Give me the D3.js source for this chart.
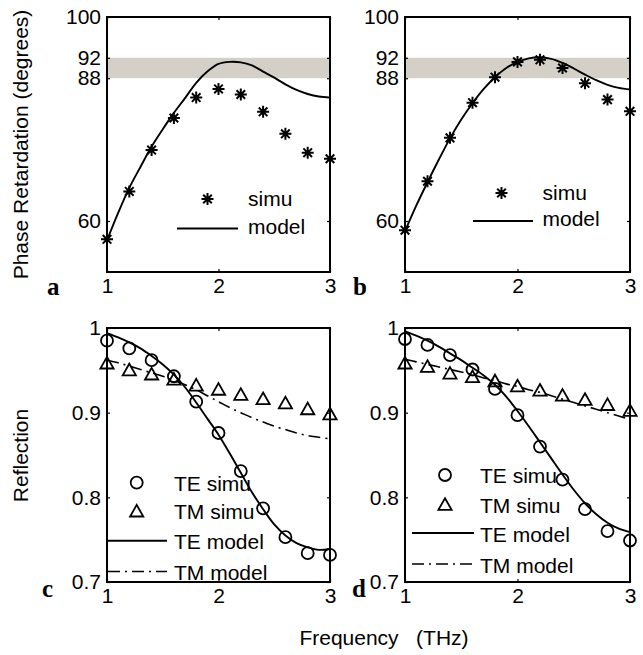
<!DOCTYPE html>
<html>
<head>
<meta charset="utf-8">
<script src="https://cdn.jsdelivr.net/npm/d3@7"></script>
<style>
  html, body { margin: 0; padding: 0; background: #fff; }
  svg { display: block; }
  text { font-family: "Liberation Sans", Arial, Helvetica, sans-serif; fill: #000; }
</style>
</head>
<body>
<svg id="chart" width="643" height="655"></svg>
<script>
// ---------------- DATA ----------------
const freqSimu = [1.0, 1.2, 1.4, 1.6, 1.8, 2.0, 2.2, 2.4, 2.6, 2.8, 3.0];
const freqModel = [1.0, 1.1, 1.2, 1.3, 1.4, 1.5, 1.6, 1.7, 1.8, 1.9, 2.0,
                   2.1, 2.2, 2.3, 2.4, 2.5, 2.6, 2.7, 2.8, 2.9, 3.0];

// Panel a: phase retardation
const phaseSimuA  = [56.4, 65.8, 73.9, 80.2, 84.2, 85.9, 84.8, 81.4, 77.1, 73.4, 72.2];
const phaseModelA = [56.2, 61.6, 66.5, 70.6, 74.6, 78.0, 81.2, 84.1, 87.1, 89.3, 90.8,
                     91.2, 91.1, 90.5, 89.3, 88.1, 86.8, 85.7, 84.9, 84.4, 84.2];
// Panel b: phase retardation
const phaseSimuB  = [58.2, 67.8, 76.3, 83.2, 88.2, 91.2, 91.6, 90.0, 87.0, 83.8, 81.5];
const phaseModelB = [58.0, 63.0, 67.6, 72.0, 76.2, 79.9, 83.1, 85.9, 88.2, 90.0, 91.2,
                     91.9, 92.1, 91.8, 91.0, 89.9, 88.7, 87.6, 86.7, 86.1, 85.8];
// Panel c: reflection
const teSimuC  = [0.985, 0.976, 0.962, 0.943, 0.913, 0.876, 0.831, 0.787, 0.753, 0.734, 0.732];
const tmSimuC  = [0.959, 0.951, 0.946, 0.940, 0.933, 0.928, 0.922, 0.917, 0.912, 0.905, 0.899];
const teModelC = [0.994, 0.989, 0.983, 0.976, 0.967, 0.957, 0.945, 0.930, 0.912, 0.893, 0.874,
                  0.852, 0.829, 0.806, 0.786, 0.768, 0.755, 0.746, 0.741, 0.738, 0.739];
const tmModelC = [0.962, 0.959, 0.955, 0.951, 0.947, 0.943, 0.938, 0.933, 0.927, 0.920, 0.913,
                  0.906, 0.900, 0.894, 0.889, 0.884, 0.880, 0.876, 0.873, 0.871, 0.869];
// Panel d: reflection
const teSimuD  = [0.987, 0.980, 0.968, 0.951, 0.928, 0.897, 0.860, 0.821, 0.786, 0.760, 0.749];
const tmSimuD  = [0.959, 0.955, 0.947, 0.943, 0.938, 0.932, 0.927, 0.921, 0.916, 0.910, 0.903];
const teModelD = [0.996, 0.991, 0.985, 0.978, 0.970, 0.962, 0.953, 0.944, 0.933, 0.919, 0.902,
                  0.884, 0.865, 0.846, 0.827, 0.809, 0.793, 0.780, 0.770, 0.763, 0.759];
const tmModelD = [0.963, 0.960, 0.957, 0.954, 0.951, 0.948, 0.945, 0.941, 0.938, 0.934, 0.931,
                  0.927, 0.924, 0.920, 0.916, 0.912, 0.908, 0.904, 0.900, 0.896, 0.892];

const xTicks = [1, 2, 3];
const phaseTicks = [60, 88, 92, 100];
const reflTicks = [0.7, 0.8, 0.9, 1];
const bandRange = [88, 92];
const legendPhase = ["simu", "model"];
const legendRefl = ["TE simu", "TM simu", "TE model", "TM model"];
const panelLetters = ["a", "b", "c", "d"];

// ---------------- LAYOUT ----------------
const svg = d3.select("#chart");
const FS = 21;
const cols = [[107, 330], [405, 630]];
const rows = [[17, 272], [328, 582]];
const DASHDOT = "12,5,2,5";

const asteriskPath = "M-6,0L6,0M0,-6L0,6M-4.3,-4.3L4.3,4.3M-4.3,4.3L4.3,-4.3";
const trianglePath = "M0,-5.8L6.6,5.8L-6.6,5.8Z";

function makePanel(ci, ri, yDomain, yTicks) {
  const x = d3.scaleLinear().domain([1, 3]).range(cols[ci]);
  const y = d3.scaleLinear().domain(yDomain).range([rows[ri][1], rows[ri][0]]);
  const g = svg.append("g");
  return { x, y, g };
}

function drawAxes(p, yTicks, yFormat) {
  const [x0, x1] = p.x.range();
  const [y1, y0] = p.y.range();
  const styleAxis = sel => {
    sel.select(".domain").remove();
    sel.selectAll(".tick line").attr("stroke", "#000").attr("stroke-width", 1.2);
    sel.selectAll("text").attr("font-family", null).attr("font-size", FS).attr("fill", "#000");
  };
  p.g.append("g").attr("transform", `translate(0,${y1})`)
    .call(d3.axisBottom(p.x).tickValues(xTicks).tickSize(-3).tickPadding(6.5).tickFormat(d3.format("d")))
    .call(styleAxis);
  p.g.append("g").attr("transform", `translate(0,${y0})`)
    .call(d3.axisTop(p.x).tickValues(xTicks).tickSize(-3).tickFormat(""))
    .call(styleAxis);
  p.g.append("g").attr("transform", `translate(${x0},0)`)
    .call(d3.axisLeft(p.y).tickValues(yTicks).tickSize(-3).tickPadding(6).tickFormat(yFormat))
    .call(styleAxis);
  p.g.append("g").attr("transform", `translate(${x1},0)`)
    .call(d3.axisRight(p.y).tickValues(yTicks).tickSize(-3).tickFormat(""))
    .call(styleAxis);
  p.g.append("rect")
    .attr("x", x0).attr("y", y0).attr("width", x1 - x0).attr("height", y1 - y0)
    .attr("fill", "none").attr("stroke", "#000").attr("stroke-width", 2);
}

function drawLine(p, xs, ys, dash) {
  const line = d3.line().x(d => p.x(d[0])).y(d => p.y(d[1])).curve(d3.curveCatmullRom.alpha(0.5));
  p.g.append("path").datum(xs.map((v, i) => [v, ys[i]]))
    .attr("d", line).attr("fill", "none").attr("stroke", "#000")
    .attr("stroke-width", dash ? 1.6 : 1.9)
    .attr("stroke-dasharray", dash || null);
}

function drawMarkers(p, xs, ys, type) {
  const sel = p.g.append("g").selectAll("path")
    .data(xs.map((v, i) => [v, ys[i]])).join("path")
    .attr("transform", d => `translate(${p.x(d[0])},${p.y(d[1])})`)
    .attr("fill", "none").attr("stroke", "#000");
  if (type === "star") sel.attr("d", asteriskPath).attr("stroke-width", 2);
  else if (type === "tri") sel.attr("d", trianglePath).attr("stroke-width", 1.8);
  else sel.attr("d", d3.symbol(d3.symbolCircle, Math.PI * 36)()).attr("stroke-width", 1.8);
}

function legendMarker(g, type, cx, cy) {
  const path = type === "star" ? asteriskPath : type === "tri" ? trianglePath
             : d3.symbol(d3.symbolCircle, Math.PI * 36)();
  g.append("path").attr("d", path).attr("transform", `translate(${cx},${cy})`)
    .attr("fill", "none").attr("stroke", "#000").attr("stroke-width", type === "star" ? 2 : 1.8);
}
function legendLine(g, xa, xb, yy, dash) {
  g.append("line").attr("x1", xa).attr("x2", xb).attr("y1", yy).attr("y2", yy)
    .attr("stroke", "#000").attr("stroke-width", dash ? 1.6 : 1.9)
    .attr("stroke-dasharray", dash || null);
}
function legendText(g, tx, ty, label) {
  g.append("text").attr("x", tx).attr("y", ty).attr("font-size", FS).text(label);
}

// ---------------- PHASE PANELS ----------------
function phasePanel(ci, simu, model, leg) {
  const p = makePanel(ci, 0, [50, 100], phaseTicks);
  const [x0, x1] = p.x.range();
  p.g.append("rect")
    .attr("x", x0).attr("width", x1 - x0)
    .attr("y", p.y(bandRange[1])).attr("height", p.y(bandRange[0]) - p.y(bandRange[1]))
    .attr("fill", "#d4d0c8");
  drawLine(p, freqModel, model, null);
  drawMarkers(p, freqSimu, simu, "star");
  drawAxes(p, phaseTicks, d3.format("d"));
  const lg = p.g.append("g");
  legendMarker(lg, "star", leg.mx, leg.sy);
  legendText(lg, leg.tx, leg.sy + 6.5, legendPhase[0]);
  legendLine(lg, leg.lx0, leg.lx1, leg.ly, null);
  legendText(lg, leg.tx, leg.ly + 5, legendPhase[1]);
  return p;
}
phasePanel(0, phaseSimuA, phaseModelA, { mx: 207.5, sy: 199, tx: 248, lx0: 177, lx1: 238, ly: 228.5 });
phasePanel(1, phaseSimuB, phaseModelB, { mx: 501.5, sy: 193, tx: 542.5, lx0: 473, lx1: 533, ly: 221 });

// ---------------- REFLECTION PANELS ----------------
function reflPanel(ci, teS, tmS, teM, tmM, leg) {
  const p = makePanel(ci, 1, [0.7, 1], reflTicks);
  drawLine(p, freqModel, teM, null);
  drawLine(p, freqModel, tmM, DASHDOT);
  drawMarkers(p, freqSimu, teS, "circle");
  drawMarkers(p, freqSimu, tmS, "tri");
  drawAxes(p, reflTicks, d => d === 1 ? "1" : d3.format(".1f")(d));
  const lg = p.g.append("g");
  legendMarker(lg, "circle", leg.mx, leg.y[0]);
  legendText(lg, leg.tx, leg.y[0] + 8, legendRefl[0]);
  legendMarker(lg, "tri", leg.mx, leg.y[1]);
  legendText(lg, leg.tx, leg.y[1] + 8.5, legendRefl[1]);
  legendLine(lg, leg.lx0, leg.lx1, leg.y[2], null);
  legendText(lg, leg.tx, leg.y[2] + 8.5, legendRefl[2]);
  legendLine(lg, leg.lx0, leg.lx1, leg.y[3], DASHDOT);
  legendText(lg, leg.tx, leg.y[3] + 8.5, legendRefl[3]);
  return p;
}
reflPanel(0, teSimuC, tmSimuC, teModelC, tmModelC,
  { mx: 136.7, tx: 174, lx0: 108, lx1: 167, y: [482.7, 510.7, 540.7, 571.5] });
reflPanel(1, teSimuD, tmSimuD, teModelD, tmModelD,
  { mx: 445, tx: 480, lx0: 412, lx1: 474, y: [475, 504, 533, 564] });

// ---------------- LABELS ----------------
svg.append("text").attr("transform", "translate(28,144.5) rotate(-90)")
  .attr("text-anchor", "middle").attr("font-size", FS).text("Phase Retardation (degrees)");
svg.append("text").attr("transform", "translate(28,455.5) rotate(-90)")
  .attr("text-anchor", "middle").attr("font-size", FS).text("Reflection");
svg.append("text").attr("x", 384).attr("y", 645).attr("text-anchor", "middle")
  .attr("font-size", FS).style("white-space", "pre").text("Frequency   (THz)");

const letterPos = [[47, 295], [353, 295], [42, 597], [352, 597]];
svg.selectAll("text.letter").data(panelLetters).join("text").attr("class", "letter")
  .attr("x", (d, i) => letterPos[i][0]).attr("y", (d, i) => letterPos[i][1])
  .attr("font-family", "'Liberation Serif', 'Times New Roman', serif")
  .style("font-family", "'Liberation Serif', 'Times New Roman', serif")
  .attr("font-weight", "bold").attr("font-size", 25).text(d => d);
</script>
</body>
</html>
